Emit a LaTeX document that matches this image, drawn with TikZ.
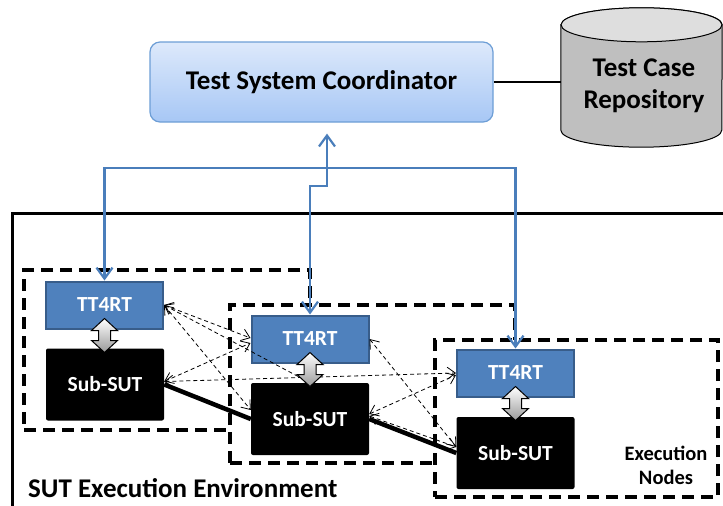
\documentclass[tikz,border=0pt]{standalone}
\usepackage{fontspec}
\setmainfont{Carlito}
\usetikzlibrary{arrows.meta,calc}
\definecolor{ttfill}{HTML}{4F81BD}
\definecolor{ttborder}{HTML}{385D8A}
\definecolor{linkblue}{HTML}{4A7EBB}
\definecolor{coordtop}{HTML}{DDE9FB}
\definecolor{coordbot}{HTML}{A7C7F5}
\definecolor{coordborder}{HTML}{6D9ED6}
\begin{document}
\begin{tikzpicture}[x=1pt,y=1pt,
  tt/.style={draw=ttborder, line width=2pt, fill=ttfill, text=white,
    font=\fontsize{21.5}{24}\selectfont\bfseries, minimum width=117pt, minimum height=47pt, inner sep=0pt},
  sut/.style={fill=black, rounded corners=2pt, text=white,
    font=\fontsize{21.5}{24}\selectfont\bfseries, minimum width=118pt, minimum height=72pt, inner sep=0pt},
  dbox/.style={draw=black, fill=white, dash pattern=on 12pt off 7pt, line width=3.5pt, inner sep=0pt},
  barrow/.style={draw=linkblue, line width=2.2pt,
    {Straight Barb[length=11pt,width=16pt]}-{Straight Barb[length=11pt,width=16pt]}},
  barrowend/.style={draw=linkblue, line width=2.2pt, -{Straight Barb[length=11pt,width=16pt]}},
  darrow/.style={draw=black, line width=0.8pt, dash pattern=on 4pt off 3pt,
    {Straight Barb[length=8pt,width=12pt]}-{Straight Barb[length=8pt,width=12pt]}},
  dbl/.style={draw=black, line width=1pt, top color=white, bottom color=black!40},
  thicklink/.style={draw=black, line width=4.5pt},
  bigtext/.style={font=\fontsize{27}{32}\selectfont\bfseries}
]
\useasboundingbox (0,0) rectangle (723,-506);
\clip (0,0) rectangle (723,-506);

% Test system coordinator
\node[bigtext, draw=coordborder, line width=1.2pt, rounded corners=10pt,
  top color=coordtop, bottom color=coordbot,
  minimum width=343pt, minimum height=80pt, inner sep=0pt] (coord) at (321.5,-82) {Test System Coordinator};

% Test case repository (cylinder)
\node[minimum width=161pt, minimum height=105pt, inner sep=0pt] (repo) at (641.5,-77.5) {};
\path[fill=black!25, draw=black, line width=1pt]
  (repo.north west) -- (repo.south west)
  arc[start angle=180, end angle=360, x radius=80.5pt, y radius=17pt]
  -- (repo.north east)
  arc[start angle=0, end angle=180, x radius=80.5pt, y radius=17pt] -- cycle;
\draw[fill=black!13, line width=1pt] (repo.north) ellipse[x radius=80.5pt, y radius=17pt];
\node[bigtext, align=center] (repotext) at (644,-86) {Test Case\\Repository};
\draw[line width=2pt] (coord.east) -- (coord.east -| repo.west);

% SUT execution environment
\node[draw=black, line width=3pt, minimum width=728pt, minimum height=307pt, inner sep=0pt] (env) at (376,-366.5) {};
\node[bigtext, anchor=base west, inner sep=0pt] (envlabel) at (28,-497) {SUT Execution Environment};

% Execution nodes (dashed boxes)
\node[dbox, minimum width=286pt, minimum height=160pt] (en1) at (167,-350) {};
\node[dbox, minimum width=285pt, minimum height=158pt] (en2) at (372.5,-384) {};
\node[dbox, minimum width=283pt, minimum height=157pt] (en3) at (576.5,-418.5) {};
\node[font=\fontsize{20.5}{24}\selectfont\bfseries, align=center] (exn) at (666,-465) {Execution\\Nodes};

% TT4RT and Sub-SUT
\node[tt] (T1) at (104.5,-305) {TT4RT};
\node[tt] (T2) at (310,-339) {TT4RT};
\node[tt] (T3) at (515.5,-373) {TT4RT};
\node[sut] (S1) at (105,-384.5) {Sub-SUT};
\node[sut] (S2) at (310,-419) {Sub-SUT};
\node[sut] (S3) at (515.5,-453) {Sub-SUT};

% Blue connectors to coordinator
\coordinate (hy) at (310,-168);
\coordinate (stp) at (327,-186);
\coordinate (tip) at ([xshift=5.5pt,yshift=-11pt]coord.south);
\draw[barrow] (T1.north) |- (hy) -| (T3.north);
\draw[barrow] (T2.north) |- (stp) -- (tip);

% Sub-SUT links
\draw[thicklink] (S1.east) -- (S2.west);
\draw[thicklink] (S2.east) -- (S3.west);

% Dashed communication arrows
\draw[darrow] (T1.east) -- ([yshift=1pt]T2.west);
\draw[darrow] (T1.east) -- (S2.north);
\draw[darrow] (T1.east) -- ([yshift=9pt]S2.west);
\draw[darrow] ([yshift=3pt]S1.east) -- ([yshift=-4pt]T2.west);
\draw[darrow] ([yshift=3pt]S1.east) -- (T3.west);
\draw[darrow] (T2.east) -- ([yshift=6pt]S3.west);
\draw[darrow] ([yshift=5pt]S2.east) -- ([yshift=-2pt]T3.west);
\draw[darrow] ([yshift=3pt]S2.east) -- ([yshift=6pt]S3.west);

% Double arrows TT4RT <-> Sub-SUT
\foreach \n in {1,2,3}{
  \draw[dbl] ([yshift=11pt]T\n.south) -- ++(13,-12) -- ++(-7,0) -- ++(0,-10) -- ++(7,0)
    -- ++(-13,-12) -- ++(-13,12) -- ++(7,0) -- ++(0,10) -- ++(-7,0) -- cycle;
}
\end{tikzpicture}
\end{document}
